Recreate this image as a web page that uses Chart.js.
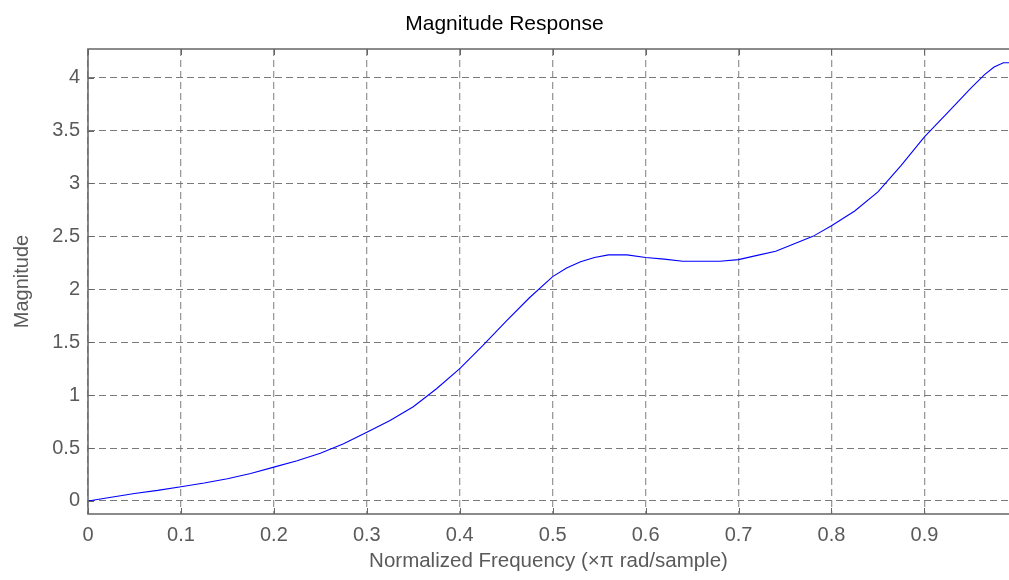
<!DOCTYPE html>
<html>
<head>
<meta charset="utf-8">
<script src="https://cdn.jsdelivr.net/npm/chart.js@4"></script>
<style>
  html, body { margin: 0; padding: 0; background: #fff; overflow: hidden; }
  #wrap { width: 1009px; height: 580px; position: relative; }
</style>
</head>
<body>
<div id="wrap"><canvas id="myChart"></canvas></div>
<script>
// normalized frequency (x pi rad/sample)
const freq = [0, 0.025, 0.05, 0.075, 0.1, 0.125, 0.15, 0.175, 0.2, 0.225, 0.25, 0.275, 0.3, 0.325, 0.35, 0.375,
  0.4, 0.425, 0.45, 0.475, 0.5, 0.515, 0.53, 0.545, 0.56, 0.58, 0.6, 0.62, 0.64, 0.66, 0.68, 0.7, 0.72,
  0.74, 0.76, 0.78, 0.8, 0.825, 0.85, 0.875, 0.9, 0.925, 0.95, 0.965, 0.975, 0.985, 0.998];
// magnitude
const mag = [0, 0.035, 0.07, 0.1, 0.135, 0.17, 0.21, 0.26, 0.32, 0.38, 0.45, 0.54, 0.65, 0.76, 0.89, 1.06,
  1.25, 1.47, 1.7, 1.92, 2.12, 2.2, 2.26, 2.3, 2.325, 2.325, 2.3, 2.285, 2.265, 2.265, 2.265, 2.28, 2.32,
  2.36, 2.43, 2.5, 2.6, 2.74, 2.92, 3.17, 3.44, 3.67, 3.9, 4.03, 4.1, 4.14, 4.14];

// the right side of the axes box is cut off by the picture edge
const xRange = [0, 0.991];
const yRange = [-0.123, 4.27];
const xStep = 0.1;
const yStep = 0.5;

const font = '"Liberation Sans", Arial, Helvetica, sans-serif';
const axisColor = '#666666';
const textColor = '#5a5a5a';

// top/left/bottom box lines and small inward tick marks, like matlab axes
const boxPlugin = {
  id: 'box',
  afterDraw(chart) {
    const { ctx, chartArea: a, scales } = chart;
    ctx.save();
    ctx.strokeStyle = axisColor;
    ctx.lineWidth = 1.5;
    ctx.setLineDash([]);
    ctx.beginPath();
    ctx.moveTo(chart.width, a.top);
    ctx.lineTo(a.left, a.top);
    ctx.lineTo(a.left, a.bottom);
    ctx.lineTo(chart.width, a.bottom);
    ctx.stroke();
    ctx.lineWidth = 1;
    const len = 6;
    scales.x.ticks.forEach((t, i) => {
      const px = Math.round(scales.x.getPixelForTick(i)) + 0.5;
      ctx.beginPath();
      ctx.moveTo(px, a.bottom); ctx.lineTo(px, a.bottom - len);
      ctx.moveTo(px, a.top); ctx.lineTo(px, a.top + len);
      ctx.stroke();
    });
    scales.y.ticks.forEach((t, i) => {
      const py = Math.round(scales.y.getPixelForTick(i)) + 0.5;
      ctx.beginPath();
      ctx.moveTo(a.left, py); ctx.lineTo(a.left + len, py);
      ctx.stroke();
    });
    ctx.restore();
  }
};

const points = freq.map((f, i) => ({ x: f, y: mag[i] }));

const config = {
  type: 'line',
  data: {
    datasets: [{
      data: points,
      borderColor: '#0000ff',
      borderWidth: 1.1,
      pointRadius: 0,
      tension: 0,
      fill: false,
    }],
  },
  plugins: [boxPlugin],
  options: {
    responsive: true,
    maintainAspectRatio: false,
    animation: false,
    layout: { padding: 0 },
    plugins: {
      legend: { display: false },
      tooltip: { enabled: false },
      title: {
        display: true,
        text: 'Magnitude Response',
        color: '#000',
        font: { family: font, size: 21, weight: 'normal' },
        padding: { top: 11.5, bottom: 12.3 },
      },
    },
    scales: {
      x: {
        type: 'linear',
        min: xRange[0],
        max: xRange[1],
        afterFit(scale) { scale.height = 66; },
        ticks: {
          stepSize: xStep,
          includeBounds: false,
          padding: 9,
          color: textColor,
          font: { family: font, size: 20 },
          maxRotation: 0,
          callback: v => String(+v.toFixed(2)),
        },
        grid: {
          color: 'rgba(120,120,120,0.75)',
          lineWidth: 1.3,
          drawTicks: false,
        },
        border: { display: false, dash: [7, 4] },
        title: {
          display: true,
          text: 'Normalized Frequency (×π rad/sample)',
          color: textColor,
          font: { family: font, size: 20.5 },
          padding: { top: 0, bottom: 6 },
        },
      },
      y: {
        min: yRange[0],
        max: yRange[1],
        afterFit(scale) { scale.width = 88; },
        ticks: {
          stepSize: yStep,
          includeBounds: false,
          padding: 8,
          color: textColor,
          font: { family: font, size: 20 },
          callback: v => String(+v.toFixed(2)),
        },
        grid: {
          color: '#7a7a7a',
          lineWidth: 1,
          drawTicks: false,
        },
        border: { display: false, dash: [7, 4] },
        title: {
          display: true,
          text: 'Magnitude',
          color: textColor,
          font: { family: font, size: 20 },
          padding: { top: 10, bottom: 0 },
        },
      },
    },
  },
};

const myChart = new Chart(document.getElementById('myChart'), config);
</script>
</body>
</html>
